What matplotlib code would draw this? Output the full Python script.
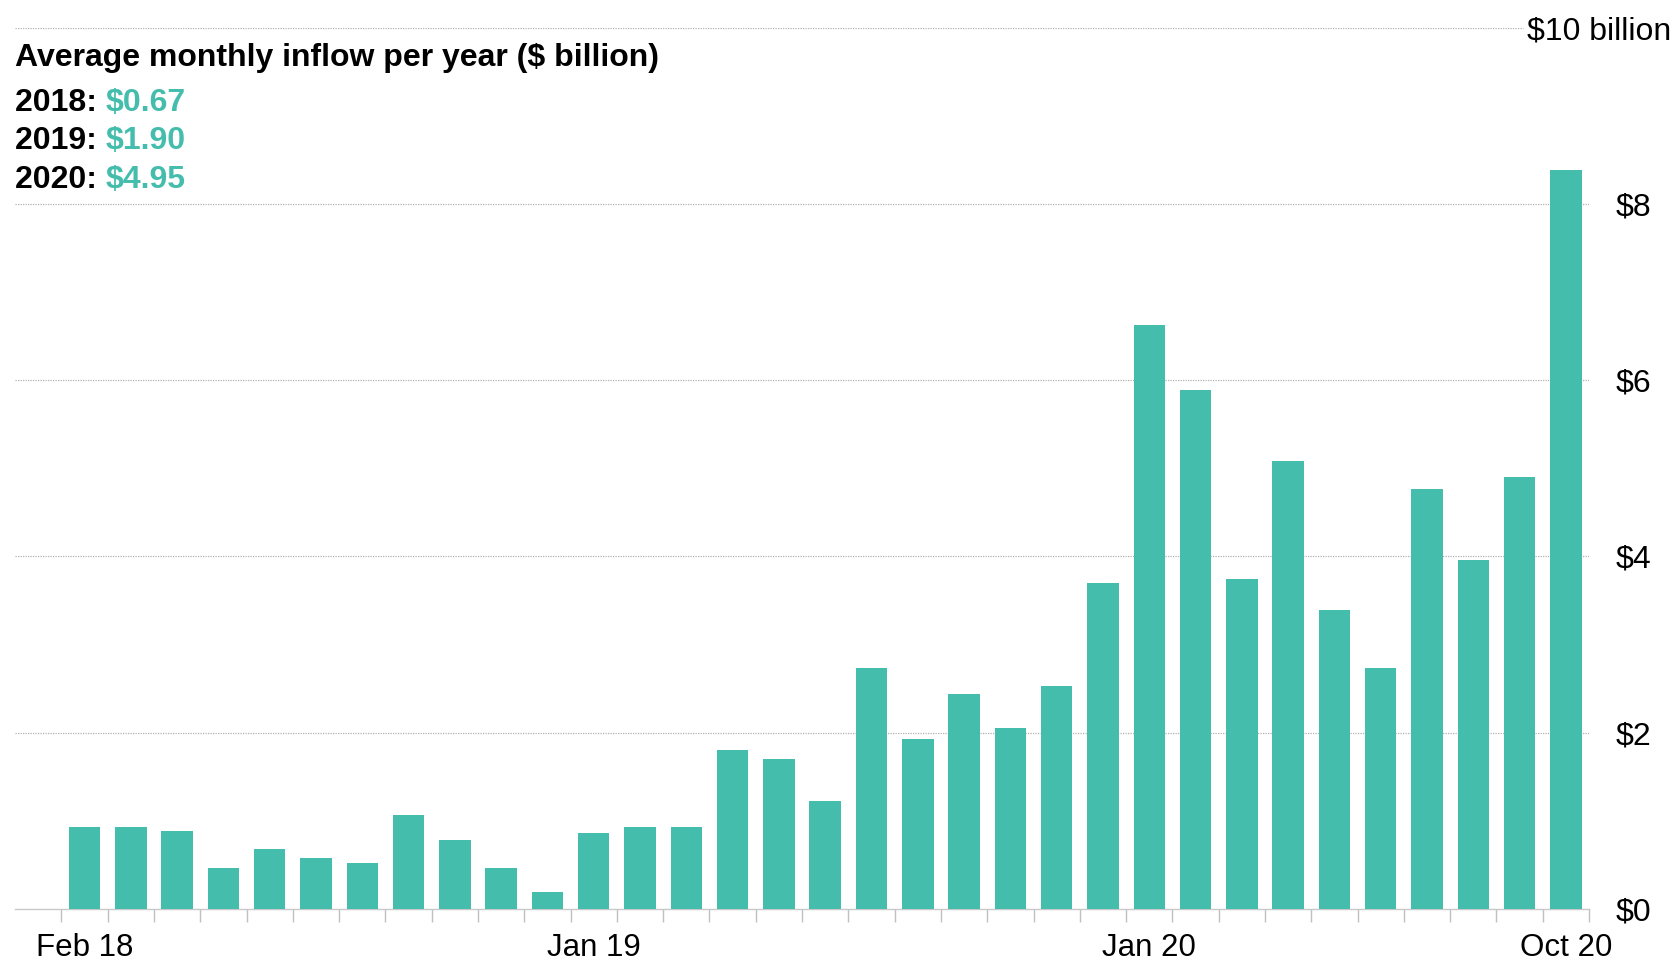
import matplotlib
matplotlib.use("Agg")
import matplotlib.pyplot as plt

plt.rcParams['font.family'] = ['Liberation Sans', 'DejaVu Sans']
plt.rcParams['text.parse_math'] = False

# Monthly inflows, Feb 2018 - Oct 2020 ($ billion)
months = ["Feb 18", "Mar 18", "Apr 18", "May 18", "Jun 18", "Jul 18", "Aug 18",
          "Sep 18", "Oct 18", "Nov 18", "Dec 18",
          "Jan 19", "Feb 19", "Mar 19", "Apr 19", "May 19", "Jun 19", "Jul 19",
          "Aug 19", "Sep 19", "Oct 19", "Nov 19", "Dec 19",
          "Jan 20", "Feb 20", "Mar 20", "Apr 20", "May 20", "Jun 20", "Jul 20",
          "Aug 20", "Sep 20", "Oct 20"]
inflow = [0.93, 0.93, 0.88, 0.47, 0.68, 0.58, 0.52, 1.07, 0.78, 0.47, 0.19,
          0.86, 0.93, 0.93, 1.80, 1.70, 1.22, 2.73, 1.93, 2.44, 2.05, 2.53, 3.70,
          6.63, 5.89, 3.75, 5.08, 3.39, 2.74, 4.76, 3.96, 4.90, 8.38]
shown_labels = ["Feb 18", "Jan 19", "Jan 20", "Oct 20"]

years = ["2018", "2019", "2020"]
yearly_avg = ["$0.67", "$1.90", "$4.95"]

y_ticks = [0, 2, 4, 6, 8]
y_labels = ["$0", "$2", "$4", "$6", "$8"]

teal = "#44bdac"
grid_col = "#b0b0b0"

fig = plt.figure(figsize=(16.72, 9.61), dpi=100)
ax = fig.add_axes([0.009, 0.0541, 0.9414, 0.9171])

x = list(range(len(inflow)))
ax.bar(x, inflow, width=0.68, color=teal, zorder=3)

ax.set_xlim(-1.5, len(inflow) - 0.5)
ax.set_ylim(0, 10)

# gridlines
for v in y_ticks[1:]:
    ax.axhline(v, color=grid_col, lw=0.9, ls=(0, (1, 1)), zorder=1)
ax.axhline(10, xmax=0.958, color=grid_col, lw=0.9, ls=(0, (1, 1)), zorder=1)

for s in ["top", "left", "right"]:
    ax.spines[s].set_visible(False)
ax.spines["bottom"].set_color("#c8c8c8")
ax.spines["bottom"].set_linewidth(1.0)

# x ticks: small marks between months, labels on selected months
ax.set_xticks([months.index(m) for m in shown_labels])
ax.set_xticklabels(shown_labels, fontsize=22.5)
ax.set_xticks([i - 0.5 for i in range(len(inflow) + 1)], minor=True)
ax.tick_params(axis="x", which="major", length=0, pad=17)
ax.tick_params(axis="x", which="minor", length=9, width=1, color="#c0c0c0")

ax.yaxis.tick_right()
ax.set_yticks(y_ticks)
ax.set_yticklabels(y_labels, fontsize=23)
ax.tick_params(axis="y", length=0, pad=19)
ax.text(0.9606, 9.96, "$10 billion", transform=ax.get_yaxis_transform(),
        fontsize=23, ha="left", va="center")

# title block
fig.text(0.009, 0.9395, "Average monthly inflow per year ($ billion)",
         fontsize=23, fontweight="bold", ha="left", va="center")
ys = [0.8926, 0.8531, 0.8125]
for yr, val, yy in zip(years, yearly_avg, ys):
    t = fig.text(0.009, yy, yr + ": ", fontsize=23, fontweight="bold",
                 ha="left", va="center")
    ax.annotate(val, xy=(1, 0), xycoords=t, fontsize=23, fontweight="bold",
                color=teal, ha="left", va="bottom", annotation_clip=False)

fig.savefig("out.png", dpi=100)
